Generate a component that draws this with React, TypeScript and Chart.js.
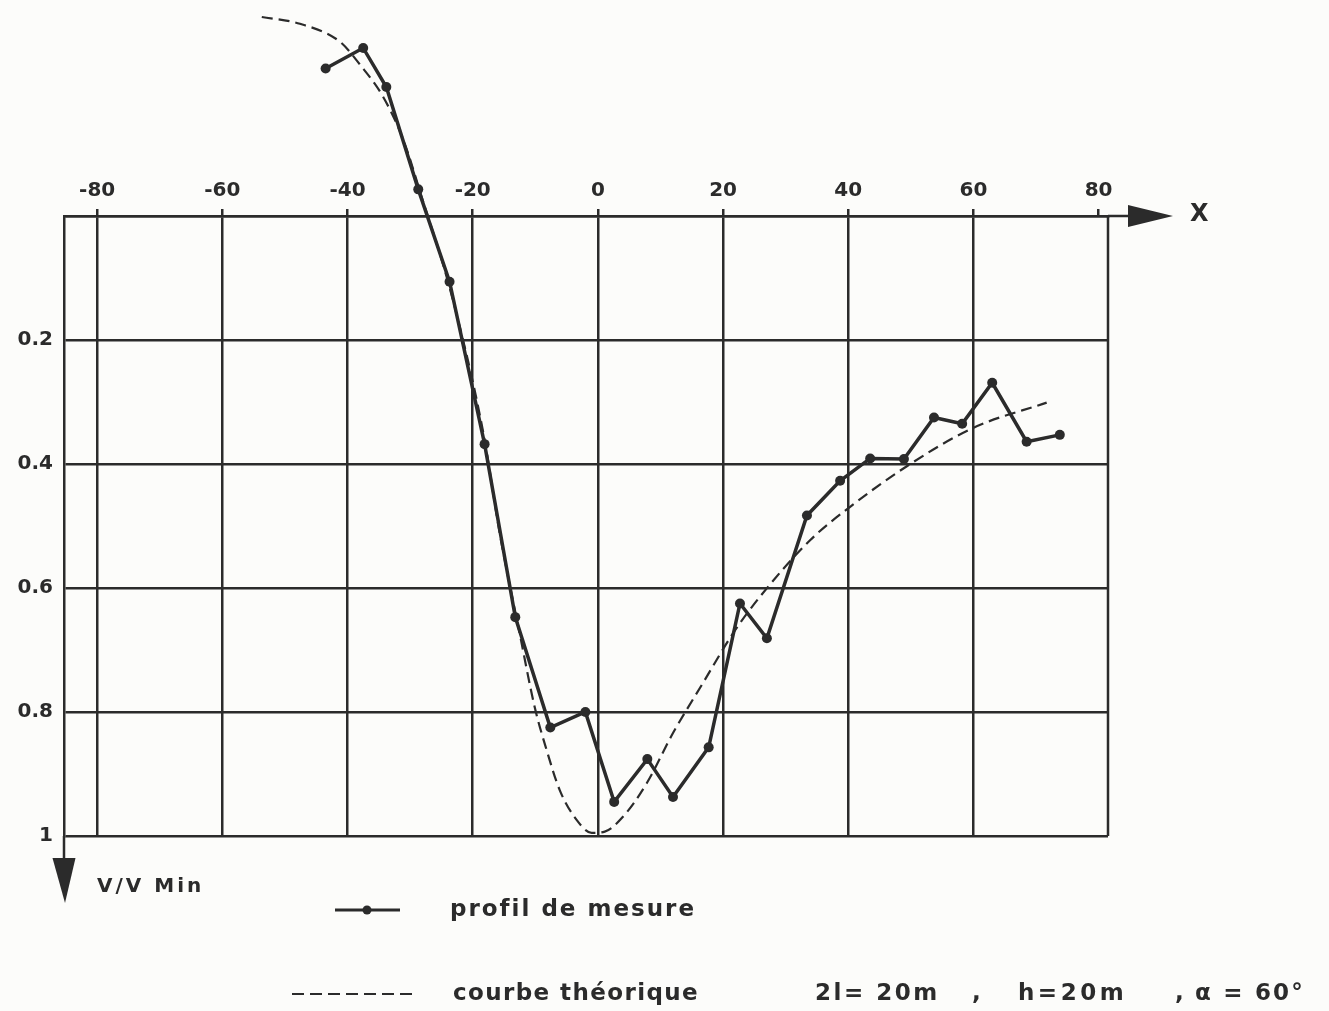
import React, { useEffect, useRef } from 'react';
import { Chart, registerables } from 'chart.js';

Chart.register(...registerables);

// ---- data ----
const xTickValues = [-80, -60, -40, -20, 0, 20, 40, 60, 80];
const yTickValues = [0, 0.2, 0.4, 0.6, 0.8, 1];

// profil de mesure (measured profile)
const measuredX = [-43.5, -37.5, -33.8, -28.7, -23.7, -18.1, -13.2, -7.6, -2.0, 2.6, 7.9, 12.0, 17.7, 22.7, 27.0, 33.4, 38.7, 43.5, 48.9, 53.7, 58.2, 63.0, 68.5, 73.8];
const measuredY = [-0.238, -0.271, -0.208, -0.043, 0.106, 0.368, 0.647, 0.825, 0.8, 0.945, 0.876, 0.937, 0.857, 0.625, 0.681, 0.483, 0.427, 0.391, 0.392, 0.325, 0.335, 0.269, 0.364, 0.353];

// courbe théorique (theoretical curve)
const theoryX = [-53.7, -47.6, -41.2, -38.0, -34.3, -31.1, -28.0, -23.6, -18.3, -15.7, -12.5, -10.1, -8.2, -6.1, -3.4, -1.0, 1.1, 4.0, 7.8, 12.0, 16.8, 21.6, 25.9, 33.9, 40.3, 49.3, 59.9, 71.7];
const theoryY = [-0.321, -0.31, -0.281, -0.244, -0.192, -0.123, -0.026, 0.119, 0.35, 0.511, 0.673, 0.792, 0.861, 0.926, 0.974, 0.995, 0.993, 0.969, 0.915, 0.834, 0.753, 0.673, 0.614, 0.523, 0.469, 0.404, 0.342, 0.301];

const legendLabels = ['profil de mesure', 'courbe théorique'];
const paramLabels = ['2l= 20m', ',', 'h=20m', ',', 'α = 60°'];
const xAxisTitle = 'X';
const yAxisTitle = 'V/V Min';

const INK = '#2b2b2b';
const FONT = '"DejaVu Sans", sans-serif';

const decorPlugin = {
  id: 'decor',
  beforeDatasetsDraw(chart: any) {
    const { ctx, chartArea: a } = chart;
    ctx.save();
    ctx.strokeStyle = INK;
    ctx.fillStyle = INK;
    ctx.lineWidth = 2.5;
    // right border of the frame
    ctx.beginPath();
    ctx.moveTo(a.right, a.top);
    ctx.lineTo(a.right, a.bottom);
    ctx.stroke();
    // X axis extension and arrow
    ctx.beginPath();
    ctx.moveTo(a.right, a.top);
    ctx.lineTo(a.right + 24, a.top);
    ctx.stroke();
    ctx.beginPath();
    ctx.moveTo(a.right + 20, a.top - 11);
    ctx.lineTo(a.right + 65, a.top);
    ctx.lineTo(a.right + 20, a.top + 11);
    ctx.closePath();
    ctx.fill();
    // Y axis extension and arrow (downwards)
    ctx.beginPath();
    ctx.moveTo(a.left, a.bottom);
    ctx.lineTo(a.left, a.bottom + 26);
    ctx.stroke();
    ctx.beginPath();
    ctx.moveTo(a.left - 11.5, a.bottom + 22);
    ctx.lineTo(a.left + 11.5, a.bottom + 22);
    ctx.lineTo(a.left + 1, a.bottom + 67);
    ctx.closePath();
    ctx.fill();

    // legend samples
    const ly1 = a.bottom + 74;
    ctx.lineWidth = 3;
    ctx.beginPath();
    ctx.moveTo(335, ly1);
    ctx.lineTo(400, ly1);
    ctx.stroke();
    ctx.beginPath();
    ctx.arc(367, ly1, 4.5, 0, Math.PI * 2);
    ctx.fill();
    const ly2 = a.bottom + 158;
    ctx.lineWidth = 2.2;
    ctx.setLineDash([12, 6]);
    ctx.beginPath();
    ctx.moveTo(292, ly2);
    ctx.lineTo(418, ly2);
    ctx.stroke();
    ctx.restore();
  },
  afterDatasetsDraw(chart: any) {
    // points lying above the frame are skipped by the default clip test; draw them without an area
    const meta = chart.getDatasetMeta(0);
    const ctx = chart.ctx;
    const a = chart.chartArea;
    meta.data.forEach((el: any) => {
      if (el.y < a.top || el.y > a.bottom || el.x < a.left || el.x > a.right) el.draw(ctx);
    });
  },
};

export default function App() {
  const canvasRef = useRef<HTMLCanvasElement | null>(null);

  useEffect(() => {
    if (!canvasRef.current) return;
    const measured = measuredX.map((x, i) => ({ x, y: measuredY[i] }));
    const theory = theoryX.map((x, i) => ({ x, y: theoryY[i] }));
    const chart = new Chart(canvasRef.current, {
      type: 'line',
      data: {
        datasets: [
          {
            label: legendLabels[0],
            data: measured,
            borderColor: INK,
            backgroundColor: INK,
            borderWidth: 3.5,
            pointRadius: 5,
            pointBackgroundColor: INK,
            pointBorderColor: INK,
            pointBorderWidth: 0,
            tension: 0,
            clip: false as any,
          },
          {
            label: legendLabels[1],
            data: theory,
            borderColor: INK,
            borderWidth: 2.2,
            borderDash: [11, 6],
            pointRadius: 0,
            cubicInterpolationMode: 'monotone',
            clip: false as any,
          },
        ],
      },
      options: {
        responsive: false,
        animation: false,
        events: [],
        layout: { padding: { left: 4, top: 166, right: 221, bottom: 175 } },
        plugins: { legend: { display: false }, tooltip: { enabled: false } },
        scales: {
          x: {
            type: 'linear',
            position: 'top',
            min: -85.3,
            max: 81.5,
            afterBuildTicks: (s: any) => {
              s.ticks = xTickValues.map((v) => ({ value: v }));
            },
            afterFit: (s: any) => {
              s.height = 50;
            },
            grid: {
              color: (c: any) => (c.tick && c.tick.value === 80 ? 'rgba(0,0,0,0)' : INK),
              tickColor: INK,
              lineWidth: 2.5,
              tickLength: 7,
              drawTicks: true,
            },
            border: { color: INK, width: 2.5 },
            ticks: {
              color: INK,
              padding: 6,
              maxRotation: 0,
              autoSkip: false,
              font: { family: FONT, size: 20, weight: 'bold' },
              callback: (v: any) => String(v),
            },
          },
          y: {
            type: 'linear',
            position: 'left',
            reverse: true,
            min: 0,
            max: 1,
            afterBuildTicks: (s: any) => {
              s.ticks = yTickValues.map((v) => ({ value: v }));
            },
            afterFit: (s: any) => {
              s.width = 60;
            },
            grid: { color: INK, lineWidth: 2.5, drawTicks: false },
            border: { color: INK, width: 2.5 },
            ticks: {
              color: INK,
              padding: 11,
              autoSkip: false,
              font: { family: FONT, size: 20, weight: 'bold' },
              callback: (v: any) => (v === 0 ? '' : String(Number(Number(v).toFixed(1)))),
            },
          },
        },
      },
      plugins: [decorPlugin],
    } as any);
    return () => chart.destroy();
  }, []);

  const textBase: React.CSSProperties = {
    position: 'absolute',
    fontFamily: FONT,
    fontWeight: 'bold',
    color: INK,
    whiteSpace: 'pre',
    lineHeight: '1',
  };

  return (
    <div style={{ position: 'fixed', left: 0, top: 0, width: 1329, height: 1011, background: '#fcfcfa', overflow: 'hidden' }}>
      <canvas ref={canvasRef} width={1329} height={1011} style={{ position: 'absolute', left: 0, top: 0 }} />
      <div style={{ ...textBase, left: 1190, top: 201, fontSize: 24 }}>{xAxisTitle}</div>
      <div style={{ ...textBase, left: 97, top: 875, fontSize: 20, letterSpacing: '3px' }}>{yAxisTitle}</div>
      <div style={{ ...textBase, left: 450, top: 897, fontSize: 23, letterSpacing: '2px' }}>{legendLabels[0]}</div>
      <div style={{ ...textBase, left: 453, top: 981, fontSize: 23, letterSpacing: '1.4px' }}>{legendLabels[1]}</div>
      <div style={{ ...textBase, left: 815, top: 981, fontSize: 23, letterSpacing: '2.5px' }}>{paramLabels[0]}</div>
      <div style={{ ...textBase, left: 972, top: 981, fontSize: 23 }}>{paramLabels[1]}</div>
      <div style={{ ...textBase, left: 1018, top: 981, fontSize: 23, letterSpacing: '3.5px' }}>{paramLabels[2]}</div>
      <div style={{ ...textBase, left: 1175, top: 981, fontSize: 23 }}>{paramLabels[3]}</div>
      <div style={{ ...textBase, left: 1195, top: 981, fontSize: 23, letterSpacing: '2.2px' }}>{paramLabels[4]}</div>
    </div>
  );
}
